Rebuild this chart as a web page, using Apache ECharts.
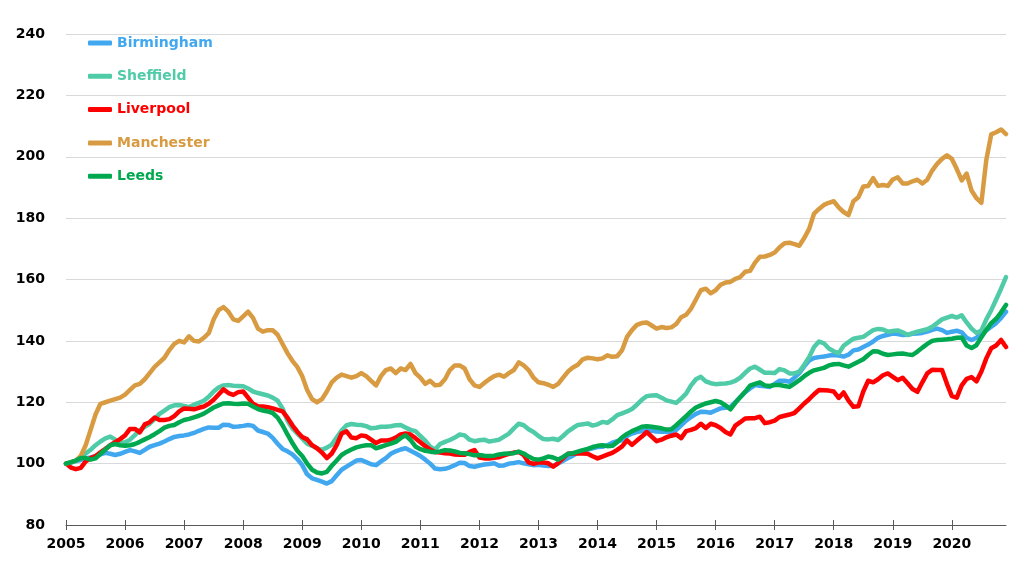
<!DOCTYPE html>
<html>
<head>
<meta charset="utf-8">
<script src="https://cdn.jsdelivr.net/npm/echarts@6/dist/echarts.min.js"></script>
<style>
html,body{margin:0;padding:0;background:#fff;}
#chart{width:1024px;height:576px;}
</style>
</head>
<body>
<div id="chart"></div>
<script>
// Tick labels (years) and monthly categories
const years = ['2005','2006','2007','2008','2009','2010','2011','2012','2013','2014','2015','2016','2017','2018','2019','2020'];
const months = ['01','02','03','04','05','06','07','08','09','10','11','12'];
const categories = [];
years.forEach(y => months.forEach(m => categories.push(y + '-' + m)));

const seriesNames = ['Birmingham','Sheffield','Liverpool','Manchester','Leeds'];

const birmingham = [
100,100.3,100.8,101.2,101.7,102,102.4,103,103.5,103.2,102.8,103.2,
103.8,104.4,104,103.5,104.5,105.5,106,106.5,107.2,108,108.7,109,
109.2,109.5,110,110.7,111.3,111.8,111.7,111.7,112.7,112.6,112,112.1,
112.3,112.6,112.3,110.8,110.3,109.8,108.4,106.5,104.8,104,103,101.5,
99.5,96.5,95.2,94.7,94.1,93.5,94.3,96.2,98,99,100,101,
101.2,100.5,99.8,99.5,100.7,101.8,103.2,104,104.6,105,104.2,103.4,
102.5,101.3,100,98.4,98.2,98.3,98.8,99.5,100.3,100.2,99.2,99,
99.4,99.7,99.9,100.1,99.3,99.4,100,100.2,100.5,100.1,99.8,99.5,
99.6,99.4,99.2,99.3,100,100.9,101.8,102.6,103.5,104.2,104.6,105,
105.4,105.5,106,106.8,107.3,107.6,109,109.8,110.3,110.6,110.9,110.7,
110.5,110.4,110.5,110.4,111,112.5,114,115.2,116.2,116.9,116.8,116.6,
117.3,118,118.2,118.5,120,121.7,123.3,124.5,125.6,125.4,125.2,125,
126,127,127,126.7,128,129.5,131.7,133.6,134.4,134.7,134.9,135.2,
135.4,135.2,134.9,135.5,136.9,137.2,138,138.8,139.8,141,141.6,142,
142.4,142.2,141.9,142,142.3,142.4,142.6,143,143.6,144,143.5,142.6,
143,143.3,142.8,141,140.3,141,142.3,143.4,144.6,145.8,147.5,149.5
];

const sheffield = [
100,100.3,101,102,103.3,104.5,106,107.2,108.2,108.8,107.8,106.7,
107,107.8,109.3,110.9,112,113,114.5,116.2,117.3,118.4,119,119.1,
118.8,118.4,119.2,119.8,120.5,121.8,123.5,124.8,125.5,125.6,125.4,125.3,
125.2,124.5,123.5,123,122.6,122.2,121.5,120.5,118,114,111.5,109.8,
108.2,106.5,105.8,105,104.5,105.2,106.2,108.5,110.8,112.5,112.9,112.7,
112.6,112.2,111.5,111.7,112,112,112.2,112.5,112.6,111.8,111,110.6,
109,107.5,105.5,104.6,106.4,107.1,107.7,108.5,109.5,109.2,107.8,107.3,
107.6,107.8,107.2,107.5,107.8,108.8,109.8,111.5,113,112.5,111.2,110.3,
109,108,107.9,108.1,107.7,109,110.5,111.6,112.6,112.8,113.1,112.4,
112.8,113.6,113.3,114.4,115.8,116.4,117,117.8,119.2,120.8,122,122.2,
122.3,121.5,120.6,120.2,119.8,121.2,122.8,125.5,127.5,128.3,126.8,126.2,
125.9,126,126.1,126.4,127,128,129.6,131,131.6,130.6,129.6,129.6,
129.5,130.8,130.4,129.4,129.4,130,132.2,134.7,138,139.8,139.2,137.5,
136.6,136,138.4,139.6,140.7,141,141.3,142.4,143.5,143.9,143.7,143,
143.2,143.4,142.8,141.9,142.5,143,143.4,143.8,144.6,145.8,147,147.6,
148.1,147.6,148.3,146,144,142.6,143.4,147,150,153.5,157,160.8
];

const liverpool = [
100,98.7,98.2,98.6,100.7,101.8,102.5,103.7,104.8,106,107,108,
109.2,111.3,111.3,110.2,112.8,113.5,115,114.2,114.2,114.5,115.5,117,
118,117.9,117.7,118.2,118.6,119.5,120.8,122.5,124.2,123,122.4,123.3,
123.5,121.5,119.5,118.7,118.6,118.4,118,117.5,117,115,112.5,110.4,
108.7,107.9,106,105,103.6,101.8,103.3,106,109.8,110.5,108.5,108.3,
109.2,108.9,107.8,106.7,107.5,107.5,107.8,108.5,109.5,109.8,109.5,108.3,
107,105.7,104.6,103.8,103.6,103.4,103.3,103,102.9,102.9,103.8,104.4,
102,101.7,101.7,101.9,102.1,102.7,103.2,103.6,103.8,102.8,100.4,99.9,
100.4,100.4,100.1,99,100.2,101.8,103.2,103.3,103.3,103.3,103.2,102.4,
101.7,102.3,102.9,103.5,104.5,105.6,107.6,106.1,107.5,108.8,110.3,108.8,
107.3,107.8,108.6,109.1,109.5,108.3,110.6,111,111.6,113,111.6,113,
112.5,111.6,110.3,109.5,112.4,113.5,114.7,114.8,114.8,115.3,113.2,113.5,
114,115.2,115.6,116,116.5,118,119.6,121,122.6,124,123.9,123.8,
123.5,121.4,123.2,120.5,118.5,118.7,123.5,127,126.5,127.5,128.8,129.4,
128.3,127.2,128,126.2,124.3,123.4,126.5,129.4,130.6,130.5,130.5,126,
122,121.5,125.5,127.6,128.2,126.8,130,134.3,137.6,138.5,140.3,138
];

const manchester = [
100,100.5,101,102.5,106,111,116,119.5,120,120.5,121,121.5,
122.5,124,125.5,126,127.5,129.5,131.5,133,134.5,137,139,140,
139.5,141.5,140,139.8,141,142.5,147,150,151,149.5,147,146.5,
148,149.5,147.5,144,143,143.5,143.5,142,139,136,133.5,131.5,
128.5,124,121,120,121,123.5,126.5,128,129,128.5,128,128.5,
129.5,128.5,127,125.5,128.5,130.5,131,129.5,131,130.5,132.5,129.5,
128,126,127,125.5,125.7,127.5,130.5,132,132,131,127.5,125.5,
125,126.3,127.5,128.5,129,128.3,129.5,130.5,133,132,130.5,128,
126.5,126.2,125.7,125,126,128,130,131.3,132.2,134,134.5,134.3,
134,134.3,135.3,134.8,135,137,141.3,143.5,145.2,145.8,146,145,
144,144.5,144.2,144.4,145.5,147.7,148.5,150.5,153.5,156.5,157,155.5,
156.5,158.3,159,159.2,160.2,160.8,162.5,162.8,165.5,167.4,167.5,168,
168.8,170.5,171.8,172,171.5,171,173.5,176.5,181.5,183,184.3,185,
185.5,183.5,182,181,185.5,186.8,190.3,190.5,193,190.5,190.8,190.5,
192.6,193.3,191.3,191.3,192,192.5,191.3,192.5,195.5,197.7,199.3,200.5,
199.3,196,192.3,194.5,189,186.5,185,199,207.3,208,208.9,207.4
];

const leeds = [
100,100.5,101,101.8,101.8,101.3,101.7,103.2,104.6,106,106.4,106,
105.8,106,106.4,107.1,107.9,108.7,109.6,110.6,111.7,112.3,112.6,113.5,
114.2,114.6,115.1,115.6,116.3,117.3,118.3,119,119.6,119.7,119.5,119.4,
119.6,119.5,118.6,117.8,117.3,117,116.5,115,112.5,109.5,106.7,104.2,
102.5,100,98,97.1,96.8,97.3,99.3,101,102.8,103.8,104.6,105.3,
105.7,106,106,105,105.5,106,106.5,107.1,108.3,109.2,107.7,105.6,
104.7,104.2,103.9,103.7,104,104.4,104.3,104,103.5,103.4,103.1,102.7,
102.8,102.6,102.5,102.6,103,103.2,103.3,103.4,103.9,103.3,102.3,101.5,
101.3,101.7,102.3,102,101.3,102.2,103.2,103.4,103.9,104.4,104.8,105.4,
105.8,106,105.7,105.8,107,108.6,109.7,110.6,111.3,112,112.2,112,
111.8,111.5,111.1,111.2,112.5,114,115.5,117,118.3,119,119.6,120,
120.4,120,119,117.7,119.8,121.6,123.4,125.4,126,126.5,125.5,125.3,
125.6,125.6,125.3,125,126.1,127.2,128.5,129.6,130.4,130.8,131.2,132,
132.4,132.5,132,131.6,132.4,133.2,134,135.4,136.6,136.5,135.8,135.4,
135.6,135.8,135.9,135.6,135.4,136.5,137.8,139,140,140.3,140.4,140.5,
140.7,141,141.1,138.5,137.7,138.6,141.2,143.6,145.8,147.2,149.3,151.7
];

const seriesData = [birmingham, sheffield, liverpool, manchester, leeds];
const seriesColors = ['#41A8F0', '#4FCBA8', '#FF0000', '#D99B41', '#00A94F'];

const chart = echarts.init(document.getElementById('chart'));
const FONT = 'DejaVu Sans';

const catAxisBase = {
  type: 'category',
  data: categories,
  boundaryGap: false,
  position: 'bottom',
  gridIndex: 0
};

chart.setOption({
  animation: false,
  backgroundColor: '#ffffff',
  grid: { left: 66, right: 18, top: 34, bottom: 51 },
  legend: {
    orient: 'vertical',
    left: 88,
    top: 35,
    padding: 0,
    icon: 'roundRect',
    itemWidth: 24,
    itemHeight: 5,
    itemGap: 17.3,
    textStyle: { fontFamily: FONT, fontWeight: 'bold', fontSize: 14, lineHeight: 16 },
    data: seriesNames.map((n, i) => ({ name: n, textStyle: { color: seriesColors[i] } }))
  },
  xAxis: [
    Object.assign({}, catAxisBase, {
      axisLine: { show: true, lineStyle: { color: '#595959', width: 1 } },
      axisTick: { show: true, interval: 11, length: 5, inside: false, lineStyle: { color: '#595959', width: 1 } },
      axisLabel: {
        interval: 11, margin: 12,
        formatter: v => v.slice(0, 4),
        fontFamily: FONT, fontWeight: 'bold', fontSize: 14, color: '#000'
      },
      splitLine: { show: false }
    }),
    Object.assign({}, catAxisBase, {
      axisLine: { show: false },
      axisTick: { show: true, interval: 11, length: 5, inside: true, lineStyle: { color: '#595959', width: 1 } },
      axisLabel: { show: false },
      splitLine: { show: false }
    })
  ],
  yAxis: {
    type: 'value',
    min: 80,
    max: 240,
    interval: 20,
    axisLine: { show: false },
    axisTick: { show: false },
    axisLabel: { margin: 21, fontFamily: FONT, fontWeight: 'bold', fontSize: 14, color: '#000' },
    splitLine: { lineStyle: { color: '#d9d9d9', width: 1 } }
  },
  series: seriesNames.map((n, i) => ({
    name: n,
    type: 'line',
    xAxisIndex: 0,
    data: seriesData[i],
    symbol: 'none',
    color: seriesColors[i],
    lineStyle: { width: 4.5, color: seriesColors[i], cap: 'round', join: 'round' },
    z: 2 + i
  }))
});
</script>
</body>
</html>
